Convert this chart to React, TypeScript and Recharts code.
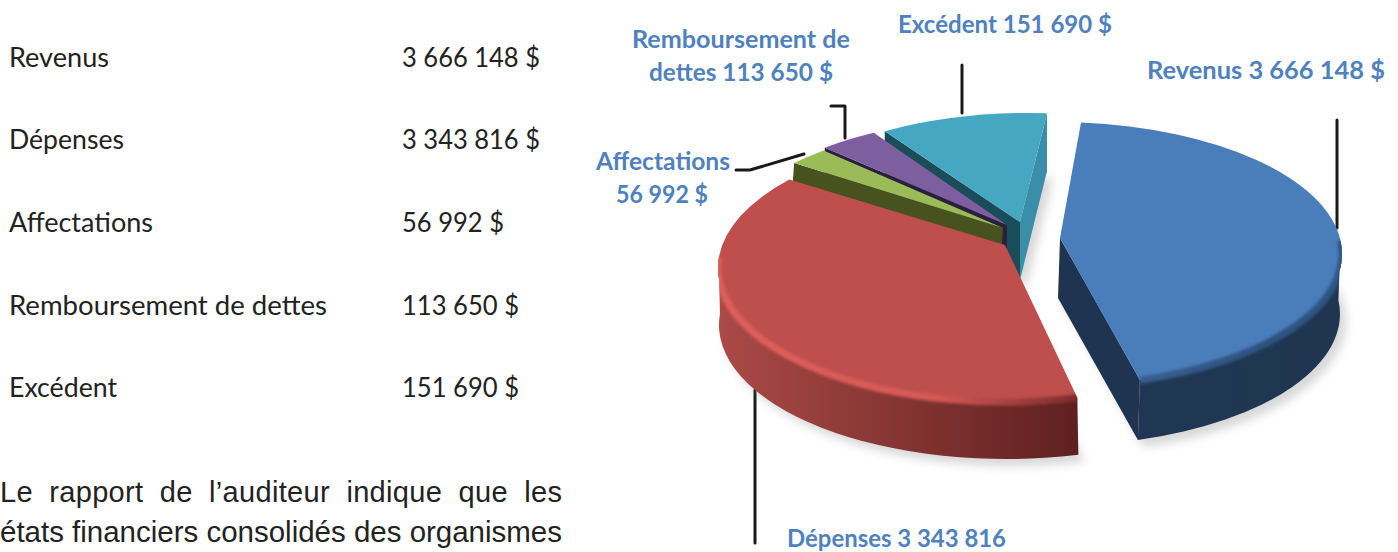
import React from "react";
import { PieChart, Pie } from "recharts";

// Printed figures
const tableNames = ["Revenus", "Dépenses", "Affectations", "Remboursement de dettes", "Excédent"];
const tableValues = ["3 666 148 $", "3 343 816 $", "56 992 $", "113 650 $", "151 690 $"];
const nameWidths = [100, 115, 144, 318, 108];
const valueWidths = [138, 138, 102, 117, 117];

// Slices, in drawing order; sweep is the share of the disc (degrees)
const sliceNames = ["Revenus", "Excédent", "Remboursement de dettes", "Affectations", "Dépenses"];
const sliceSweeps = [157.6, 33.8, 11.7, 8, 145.9];
const pieData = sliceNames.map((name, i) => ({ name, value: sliceSweeps[i] }));

const paragraph = [
  "Le rapport de l’auditeur indique que les",
  "états financiers consolidés des organismes",
];

const FONT = "Lato, Carlito, sans-serif";
const BLUE = "#4f81bd";

type Style = {
  key: string; top: string; dx: number; dy: number; ax: number; ay: number; ry: number; turn: number; depth: number;
  wallFrom?: string; wallTo?: string; arcFrom?: number; arcTo?: number; cutStart?: string; cutEnd?: string;
  shadow?: boolean; bevel?: [string, string, string]; depthX: number;
};

const styles: Record<string, Style> = {
  Revenus: { key: "rev", top: "#4a7ebb", dx: 50, dy: -14, ax: 55, ay: -30, ry: 132, turn: 0, depth: 60, wallFrom: "#1f3754", wallTo: "#20364f", arcTo: 366, cutStart: "#1e3450", shadow: true, bevel: ["#38608f", "#2d5180", "#2f5585"], depthX: -2 },
  "Excédent": { key: "exc", top: "#46a7c2", dx: 25, dy: -22, ax: 15, ay: -46, ry: 133, turn: 1.8, depth: 58, cutStart: "#3b8ea8", cutEnd: "#1a4d59", shadow: true, depthX: 0 },
  "Remboursement de dettes": { key: "rem", top: "#7d5fa0", dx: 0, dy: -16, ax: 2, ay: -43, ry: 134, turn: -1.4, depth: 57, cutEnd: "#2a1f3d", depthX: 0 },
  Affectations: { key: "aff", top: "#9bbb59", dx: -2, dy: -13, ax: -2, ay: -40, ry: 134, turn: -1.6, depth: 57, cutEnd: "#48521e", depthX: -4 },
  "Dépenses": { key: "dep", top: "#be4f4c", dx: 0, dy: 0, ax: 0, ay: -23, ry: 134, turn: 0.4, depth: 57, wallFrom: "#ab4a46", wallTo: "#5e201f", arcFrom: 535, shadow: true, bevel: ["#dd5f5c", "#d65a57", "#7a2c2a"], depthX: 1 },
};

const rad = (d: number) => (d * Math.PI) / 180;

function Slice3D(props: any) {
  const { cx, cy, outerRadius: rx, startAngle, endAngle, name } = props;
  const s = styles[name];
  if (!s) return null;
  const ex = cx + s.dx;
  const ey = cy + s.dy;
  const ry = s.ry;
  const DEPTH = s.depth;
  const at = (deg: number) => {
    const t = rad(deg + s.turn);
    return [ex + rx * Math.cos(t), ey - ry * Math.sin(t)];
  };
  const apex = [cx + s.ax, cy + s.ay];
  const a = at(startAngle);
  const b = at(endAngle);
  const large = endAngle - startAngle > 180 ? 1 : 0;
  const top = `M${apex[0]} ${apex[1]}L${a[0]} ${a[1]}A${rx} ${ry} 0 ${large} 0 ${b[0]} ${b[1]}Z`;

  const quad = (p: number[], q: number[]) =>
    `M${p[0]} ${p[1]}L${q[0]} ${q[1]}L${q[0] + s.depthX} ${q[1] + DEPTH}L${p[0] + s.depthX} ${p[1] + DEPTH}Z`;

  // outer curved wall
  let wall: string | null = null;
  let rim: string | null = null;
  if (s.arcTo !== undefined || s.arcFrom !== undefined) {
    const from = s.arcFrom ?? startAngle;
    const to = s.arcTo ?? endAngle;
    const p = at(from);
    const q = at(to);
    const lg = to - from > 180 ? 1 : 0;
    wall =
      `M${p[0]} ${p[1]}A${rx} ${ry} 0 ${lg} 0 ${q[0]} ${q[1]}` +
      `L${q[0] + s.depthX} ${q[1] + DEPTH}A${rx} ${ry} 0 ${lg} 1 ${p[0] + s.depthX} ${p[1] + DEPTH}Z`;
    rim = `M${p[0]} ${p[1]}A${rx} ${ry} 0 ${lg} 0 ${q[0]} ${q[1]}`;
  }

  return (
    <g>
      <defs>
        <filter id={`blur-${s.key}`} x="-20%" y="-20%" width="140%" height="140%">
          <feGaussianBlur stdDeviation="5" />
        </filter>
        <filter id={`soft-${s.key}`} x="-10%" y="-10%" width="120%" height="120%">
          <feGaussianBlur stdDeviation="1.6" />
        </filter>
        <clipPath id={`clip-${s.key}`}>
          <path d={top} />
          {wall && <path d={wall} />}
        </clipPath>
        {s.wallFrom && (
          <linearGradient id={`wall-${s.key}`} x1="0" x2="1" y1="0" y2="0">
            <stop offset="0" stopColor={s.wallFrom} />
            <stop offset="1" stopColor={s.wallTo} />
          </linearGradient>
        )}
        {s.bevel && (
          <linearGradient id={`bev-${s.key}`} x1="0" x2="1" y1="0" y2="0">
            <stop offset="0" stopColor={s.bevel[0]} />
            <stop offset="0.6" stopColor={s.bevel[1]} />
            <stop offset="1" stopColor={s.bevel[2]} />
          </linearGradient>
        )}
      </defs>
      {s.shadow && (
        <path d={top} fill="#8f8f8f" opacity={0.35} transform={`translate(${s.depthX + 6} ${DEPTH + 7})`} filter={`url(#blur-${s.key})`} />
      )}
      {s.cutEnd && <path d={quad(b, apex)} fill={s.cutEnd} />}
      {s.cutStart && <path d={quad(a, apex)} fill={s.cutStart} />}
      {wall && <path d={wall} fill={`url(#wall-${s.key})`} />}
      <path d={top} fill={s.top} />
      {rim && (
        <g clipPath={`url(#clip-${s.key})`}>
          <path d={rim} fill="none" stroke={`url(#bev-${s.key})`} strokeWidth={7} filter={`url(#soft-${s.key})`} />
        </g>
      )}
    </g>
  );
}

type Lbl = { t: string; x: number; y: number; w: number };
const chartLabels: Lbl[] = [
  { t: "Excédent 151 690 $", x: 898, y: 33, w: 214 },
  { t: "Remboursement de", x: 632, y: 48, w: 218 },
  { t: "dettes 113 650 $", x: 649, y: 81, w: 184 },
  { t: "Affectations", x: 596, y: 170, w: 134 },
  { t: "56 992 $", x: 616, y: 203, w: 92 },
  { t: "Revenus 3 666 148 $", x: 1147, y: 79, w: 238 },
  { t: "Dépenses 3 343 816", x: 787, y: 547, w: 219 },
];
const leaders = [
  "M962 65V113",
  "M1337 120V228",
  "M755 390V543",
  "M831 106H845V138",
  "M736 170H750L804 154",
];

export default function App() {
  return (
    <div style={{ position: "absolute", left: 0, top: 0, width: 1398, height: 552, overflow: "hidden", background: "#fff" }}>
      <PieChart width={1398} height={552} margin={{ top: 0, right: 0, bottom: 0, left: 0 }}>
        <Pie
          data={pieData}
          dataKey="value"
          nameKey="name"
          cx={1005}
          cy={268}
          innerRadius={0}
          outerRadius={287}
          startAngle={287.2}
          endAngle={644.2}
          paddingAngle={0}
          stroke="none"
          shape={Slice3D}
          isAnimationActive={false}
          label={false}
          labelLine={false}
        />
        {leaders.map((d) => (
          <path key={d} d={d} fill="none" stroke="#1a1a1a" strokeWidth={3} strokeLinecap="round" strokeLinejoin="round" />
        ))}
        {chartLabels.map((l) => (
          <text key={l.t} x={l.x} y={l.y} fontFamily={FONT} fontWeight={700} fontSize={24.5} fill={BLUE} textLength={l.w} lengthAdjust="spacingAndGlyphs">{l.t}</text>
        ))}
        {tableNames.map((n, i) => (
          <text key={n} x={9} y={66.7 + i * 82.6} fontFamily={FONT} fontSize={26} fill="#222" textLength={nameWidths[i]} lengthAdjust="spacingAndGlyphs">{n}</text>
        ))}
        {tableValues.map((v, i) => (
          <text key={v} x={402} y={66.7 + i * 82.6} fontFamily={FONT} fontSize={26} fill="#222" textLength={valueWidths[i]} lengthAdjust="spacingAndGlyphs">{v}</text>
        ))}
        <text x={0} y={502} fontFamily="Liberation Sans, Arial, sans-serif" fontSize={29} fill="#222" textLength={562} lengthAdjust="spacing" wordSpacing={8}>{paragraph[0]}</text>
        <text x={0} y={542} fontFamily="Liberation Sans, Arial, sans-serif" fontSize={29} fill="#222" textLength={562} lengthAdjust="spacingAndGlyphs">{paragraph[1]}</text>
      </PieChart>
    </div>
  );
}
